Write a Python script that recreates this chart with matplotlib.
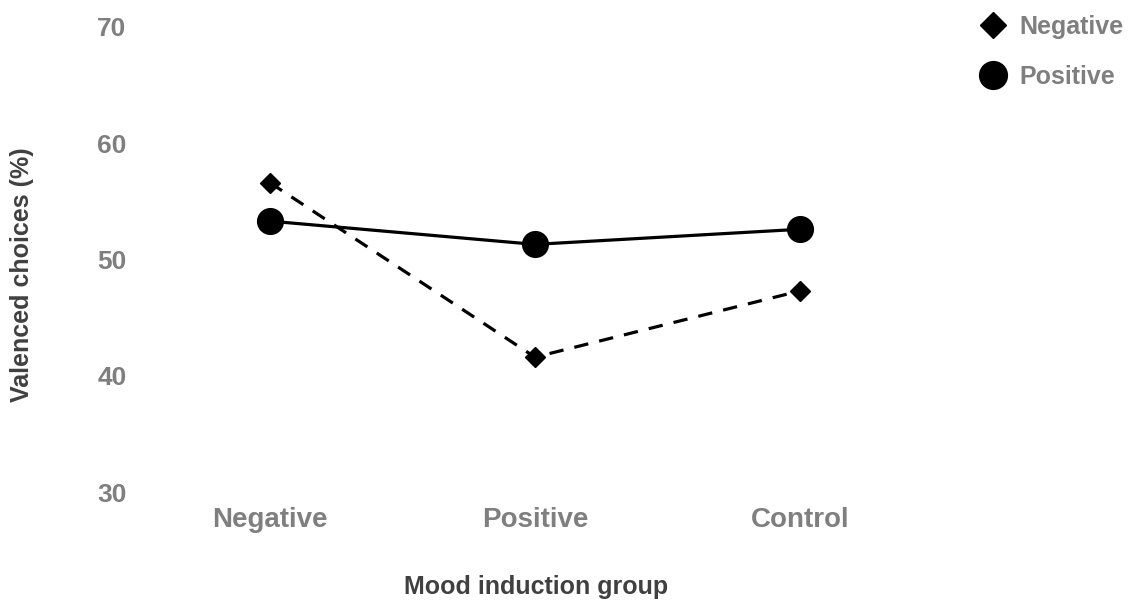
import matplotlib.pyplot as plt
from matplotlib.lines import Line2D

plt.rcParams['font.family'] = ['Liberation Sans', 'DejaVu Sans']
plt.rcParams['font.weight'] = 'bold'

# Data
groups = ['Negative', 'Positive', 'Control']
negative_mood = [56.6, 41.6, 47.3]
positive_mood = [53.3, 51.3, 52.6]
yticks = [30, 40, 50, 60, 70]

tick_grey = '#7f7f7f'
label_grey = '#404040'

fig = plt.figure(figsize=(11.33, 6.01), dpi=100)
ax = fig.add_axes([137.5 / 1133, 1 - 492 / 601, 795 / 1133, 465 / 601])

x = range(len(groups))
ax.plot(x, negative_mood, color='black', lw=2.3, dashes=(4.5, 3.5),
        marker='D', ms=10.5, clip_on=False)
ax.plot(x, positive_mood, color='black', lw=2.3, linestyle='-',
        marker='o', ms=18.5, clip_on=False)

ax.set_xlim(-0.5, 2.5)
ax.set_ylim(30, 70)
ax.set_yticks(yticks)
ax.set_xticks(list(x))
ax.set_xticklabels(groups)
ax.tick_params(axis='both', length=0, labelsize=19, labelcolor=tick_grey)
ax.tick_params(axis='x', pad=11, labelsize=20)
ax.tick_params(axis='y', pad=8)
for s in ax.spines.values():
    s.set_visible(False)

fig.text(536 / 1133, 1 - 587 / 601, 'Mood induction group', ha='center',
         va='center', fontsize=18, color=label_grey, fontweight='bold')
fig.text(22 / 1133, 1 - 275 / 601, 'Valenced choices (%)', ha='center',
         va='center', rotation=90, fontsize=18, color=label_grey,
         fontweight='bold')

handles = [Line2D([], [], color='black', marker='D', ls='none', ms=13.7),
           Line2D([], [], color='black', marker='o', ls='none', ms=20)]
leg = fig.legend(handles, ['Negative', 'Positive'], loc='center left',
                 bbox_to_anchor=(978 / 1133, 1 - 52 / 601), frameon=False,
                 fontsize=18, handlelength=1.2, handletextpad=0.45,
                 labelspacing=1.05, borderpad=0, borderaxespad=0)
for t in leg.get_texts():
    t.set_color(tick_grey)

fig.savefig('out.png', dpi=100)
